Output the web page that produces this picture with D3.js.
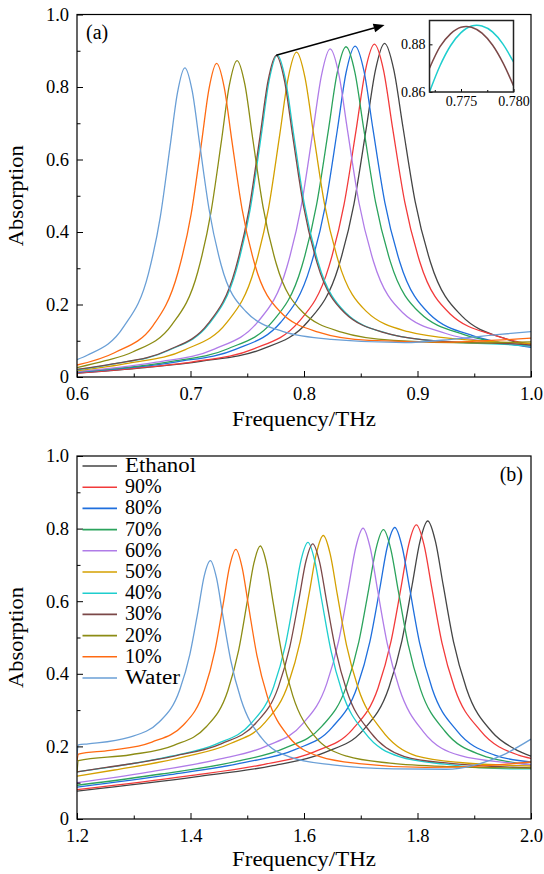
<!DOCTYPE html>
<html><head><meta charset="utf-8">
<script src="https://cdn.jsdelivr.net/npm/d3@7/dist/d3.min.js"></script>
<style>
html,body{margin:0;padding:0;background:#fff;}
svg{display:block;}
text{font-family:"Liberation Serif","DejaVu Serif",serif;fill:#000;}
</style></head>
<body>
<svg id="chart" width="544" height="874"></svg>
<script>
// ---------- Series names and colours ----------
const seriesNames = ["Ethanol","90%","80%","70%","60%","50%","40%","30%","20%","10%","Water"];
const seriesColors = ["#454545","#f23a3a","#1f6fdd","#2ba35c","#b07ce8","#d4a000","#1ecece","#7b4848","#8c8c14","#ff6a12","#6a9fd6"];

// ---------- Panel (a): [frequency THz, absorption] ----------
const aEthanol = [[0.6,0.011],[0.66,0.026],[0.709,0.043],[0.763,0.077],[0.8035,0.153],[0.8305,0.305],[0.844,0.477],[0.8548,0.685],[0.8629,0.846],[0.871,0.9205],[0.8791,0.848],[0.8872,0.689],[0.898,0.483],[0.9115,0.316],[0.9385,0.170],[0.979,0.104],[1.0,0.086]];
const a90 = [[0.6,0.011],[0.65,0.024],[0.7018,0.042],[0.7552,0.077],[0.7953,0.152],[0.822,0.305],[0.8353,0.476],[0.846,0.683],[0.854,0.844],[0.862,0.918],[0.870,0.847],[0.878,0.688],[0.8887,0.484],[0.902,0.318],[0.9288,0.174],[0.9688,0.114],[1.0,0.090]];
const a80 = [[0.6,0.013],[0.645,0.025],[0.6878,0.042],[0.7402,0.077],[0.7795,0.151],[0.8057,0.305],[0.8188,0.473],[0.8293,0.680],[0.8371,0.840],[0.845,0.913],[0.8529,0.843],[0.8607,0.685],[0.8712,0.482],[0.8843,0.318],[0.9105,0.174],[0.9498,0.113],[0.975,0.094],[1.0,0.082]];
const a70 = [[0.6,0.014],[0.64,0.025],[0.681,0.042],[0.733,0.078],[0.772,0.152],[0.798,0.304],[0.811,0.474],[0.8214,0.679],[0.8292,0.838],[0.837,0.911],[0.8448,0.841],[0.8526,0.685],[0.863,0.483],[0.876,0.319],[0.902,0.177],[0.941,0.117],[0.97,0.096],[1.0,0.085]];
const a60 = [[0.6,0.015],[0.635,0.026],[0.67,0.041],[0.721,0.077],[0.7593,0.152],[0.7848,0.302],[0.7975,0.470],[0.8077,0.674],[0.8154,0.832],[0.823,0.905],[0.8307,0.835],[0.8383,0.681],[0.8485,0.480],[0.8613,0.318],[0.8868,0.178],[0.925,0.120],[0.976,0.093],[1.0,0.085]];
const a50 = [[0.6,0.017],[0.6458,0.038],[0.695,0.075],[0.7319,0.150],[0.7565,0.300],[0.7688,0.466],[0.7786,0.668],[0.786,0.824],[0.7934,0.896],[0.8008,0.827],[0.8082,0.675],[0.818,0.478],[0.8303,0.319],[0.8549,0.181],[0.8918,0.125],[0.941,0.103],[1.0,0.093]];
const a40 = [[0.6,0.020],[0.6325,0.036],[0.6805,0.073],[0.7165,0.147],[0.7405,0.297],[0.7525,0.461],[0.7621,0.661],[0.7693,0.818],[0.7765,0.888],[0.7837,0.820],[0.7909,0.669],[0.8005,0.474],[0.8125,0.316],[0.8365,0.178],[0.8725,0.121],[0.9205,0.098],[0.9925,0.087],[1.0,0.085]];
const a30 = [[0.6,0.021],[0.6315,0.036],[0.6795,0.073],[0.7155,0.147],[0.7395,0.297],[0.7515,0.461],[0.7611,0.661],[0.7683,0.817],[0.7755,0.8875],[0.7827,0.819],[0.7899,0.668],[0.7995,0.473],[0.8115,0.315],[0.8355,0.178],[0.8715,0.122],[0.9195,0.099],[0.9915,0.090],[1.0,0.088]];
const a20 = [[0.6,0.026],[0.625,0.045],[0.649,0.069],[0.6835,0.144],[0.7065,0.291],[0.718,0.454],[0.7272,0.650],[0.7341,0.803],[0.741,0.873],[0.7479,0.807],[0.7548,0.658],[0.764,0.468],[0.7755,0.313],[0.7985,0.180],[0.833,0.124],[0.879,0.101],[0.948,0.094],[1.0,0.097]];
const a10 = [[0.6,0.033],[0.633,0.067],[0.667,0.142],[0.689,0.289],[0.7006,0.450],[0.7096,0.644],[0.7163,0.795],[0.723,0.865],[0.7297,0.799],[0.7364,0.653],[0.7454,0.464],[0.7566,0.311],[0.779,0.180],[0.8126,0.124],[0.8574,0.101],[0.9246,0.096],[0.96,0.100],[1.0,0.107]];
const aWater = [[0.6,0.048],[0.609,0.060],[0.641,0.138],[0.663,0.286],[0.6735,0.444],[0.682,0.636],[0.6885,0.784],[0.695,0.853],[0.7015,0.789],[0.708,0.645],[0.7165,0.460],[0.727,0.309],[0.749,0.180],[0.781,0.126],[0.824,0.104],[0.8885,0.095],[0.93,0.104],[0.97,0.117],[1.0,0.125]];

// Inset of panel (a): 30% and 40% near their peaks
const insetBrown = [[0.772,0.870],[0.773,0.879],[0.774,0.8844],[0.775,0.8872],[0.7755,0.8875],[0.776,0.8872],[0.777,0.8847],[0.778,0.8797],[0.779,0.8722],[0.780,0.8626]];
const insetCyan  = [[0.772,0.860],[0.773,0.871],[0.774,0.8794],[0.775,0.8849],[0.776,0.8877],[0.7765,0.888],[0.777,0.8877],[0.778,0.8852],[0.779,0.8801],[0.780,0.8726]];
const insetXTicks = [0.775, 0.780];
const insetXMinor = [0.7725, 0.7775];
const insetYTicks = [0.86, 0.88];
const arrowFrom = [0.7755, 0.8875];
const arrowTo = [0.871, 0.971];

// ---------- Panel (b) ----------
const bEthanol = [[1.2,0.077],[1.4085,0.116],[1.545,0.147],[1.636,0.183],[1.7043,0.245],[1.7498,0.363],[1.7725,0.491],[1.7907,0.646],[1.8044,0.765],[1.818,0.821],[1.8317,0.764],[1.8453,0.644],[1.8635,0.488],[1.8863,0.359],[1.9318,0.239],[1.97,0.194],[2.0,0.173]];
const b90 = [[1.2,0.081],[1.393,0.118],[1.528,0.150],[1.618,0.185],[1.6855,0.247],[1.7305,0.361],[1.753,0.487],[1.771,0.638],[1.7845,0.756],[1.798,0.810],[1.8115,0.755],[1.825,0.638],[1.843,0.486],[1.8655,0.360],[1.9105,0.244],[1.978,0.176],[2.0,0.167]];
const b80 = [[1.2,0.088],[1.364,0.122],[1.496,0.156],[1.584,0.191],[1.65,0.253],[1.694,0.365],[1.716,0.488],[1.7336,0.635],[1.7468,0.750],[1.76,0.803],[1.7732,0.748],[1.7864,0.633],[1.804,0.483],[1.826,0.358],[1.87,0.242],[1.936,0.176],[2.0,0.157]];
const b70 = [[1.2,0.093],[1.3485,0.124],[1.479,0.158],[1.566,0.195],[1.6313,0.255],[1.6748,0.366],[1.6965,0.487],[1.7139,0.632],[1.727,0.745],[1.74,0.797],[1.753,0.743],[1.7661,0.629],[1.7835,0.481],[1.8053,0.357],[1.8488,0.241],[1.914,0.175],[1.96,0.158],[2.0,0.150]];
const b60 = [[1.2,0.100],[1.3206,0.128],[1.4484,0.164],[1.5336,0.201],[1.5975,0.262],[1.6401,0.373],[1.6614,0.493],[1.6784,0.637],[1.6912,0.748],[1.704,0.801],[1.7168,0.746],[1.7296,0.631],[1.7466,0.484],[1.7679,0.360],[1.8105,0.240],[1.8744,0.175],[1.9596,0.155],[2.0,0.150]];
const b50 = [[1.2,0.118],[1.2659,0.135],[1.3886,0.171],[1.4704,0.208],[1.5318,0.267],[1.5727,0.374],[1.5931,0.488],[1.6095,0.625],[1.6217,0.731],[1.634,0.781],[1.6463,0.729],[1.6585,0.620],[1.6749,0.479],[1.6954,0.361],[1.7363,0.246],[1.7976,0.174],[1.8794,0.155],[2.0,0.146]];
const b40 = [[1.2,0.130],[1.2452,0.140],[1.3658,0.173],[1.4462,0.207],[1.5065,0.263],[1.5467,0.365],[1.5668,0.476],[1.5829,0.611],[1.5949,0.714],[1.607,0.762],[1.6191,0.710],[1.6311,0.604],[1.6472,0.466],[1.6673,0.349],[1.7075,0.237],[1.7678,0.172],[1.8482,0.151],[1.9688,0.138],[2.0,0.138]];
const b30 = [[1.2,0.130],[1.2519,0.142],[1.3731,0.174],[1.4539,0.207],[1.5145,0.263],[1.5549,0.364],[1.5751,0.475],[1.5913,0.607],[1.6034,0.710],[1.6155,0.758],[1.6276,0.707],[1.6397,0.601],[1.6559,0.465],[1.6761,0.350],[1.7165,0.240],[1.7771,0.172],[1.8579,0.153],[1.9791,0.142],[2.0,0.141]];
const b20 = [[1.2,0.128],[1.2025,0.161],[1.2944,0.177],[1.3706,0.203],[1.4278,0.254],[1.4659,0.354],[1.4849,0.465],[1.5001,0.600],[1.5116,0.704],[1.523,0.752],[1.5344,0.701],[1.5459,0.594],[1.5611,0.455],[1.5802,0.340],[1.6183,0.229],[1.6754,0.173],[1.7516,0.154],[1.8659,0.144],[2.0,0.140]];
const b10 = [[1.2,0.160],[1.2025,0.179],[1.258,0.189],[1.332,0.212],[1.3875,0.259],[1.4245,0.356],[1.443,0.464],[1.4578,0.594],[1.4689,0.696],[1.48,0.743],[1.4911,0.692],[1.5022,0.587],[1.517,0.451],[1.5355,0.337],[1.5725,0.228],[1.628,0.172],[1.702,0.152],[1.813,0.142],[1.9,0.145],[2.0,0.157]];
const bWater = [[1.2,0.177],[1.2025,0.204],[1.2196,0.207],[1.2914,0.225],[1.3453,0.268],[1.3811,0.356],[1.3991,0.455],[1.4135,0.575],[1.4242,0.670],[1.435,0.712],[1.4458,0.664],[1.4565,0.565],[1.4709,0.437],[1.4889,0.330],[1.5248,0.224],[1.5786,0.169],[1.6504,0.149],[1.7581,0.138],[1.85,0.137],[1.9,0.148],[1.95,0.176],[2.0,0.220]];

const panelAData = [aEthanol,a90,a80,a70,a60,a50,a40,a30,a20,a10,aWater];
const panelBData = [bEthanol,b90,b80,b70,b60,b50,b40,b30,b20,b10,bWater];

// Axis ticks
const aXTicks = [0.6,0.7,0.8,0.9,1.0];
const aXMinor = [0.65,0.75,0.85,0.95];
const bXTicks = [1.2,1.4,1.6,1.8,2.0];
const bXMinor = [1.3,1.5,1.7,1.9];
const yTicks = [0,0.2,0.4,0.6,0.8,1.0];
const yMinor = [0.1,0.3,0.5,0.7,0.9];

// ---------- Drawing ----------
const svg = d3.select("#chart");
const L = 77, R = 531;
const FONT = "Liberation Serif";
const fmt = d => d === 0 ? "0" : d3.format(".1f")(d);

function panel(opts){
  const x = d3.scaleLinear().domain(opts.xDomain).range([L, R]);
  const y = d3.scaleLinear().domain([0,1]).range([opts.bottom, opts.top]);
  const g = svg.append("g");
  const clipId = "clip" + opts.id;
  svg.append("clipPath").attr("id", clipId).append("rect")
    .attr("x", L).attr("y", opts.top).attr("width", R-L).attr("height", opts.bottom-opts.top);

  const line = d3.line().x(d => x(d[0])).y(d => y(d[1])).curve(d3.curveMonotoneX);
  const lines = g.append("g").attr("clip-path", `url(#${clipId})`);
  opts.data.forEach((s,i) => {
    lines.append("path").attr("d", line(s)).attr("fill","none")
      .attr("stroke", seriesColors[i]).attr("stroke-width", 1.3);
  });

  g.append("g").attr("transform", `translate(0,${opts.bottom})`)
    .call(d3.axisBottom(x).tickValues(opts.xTicks).tickSize(-6).tickPadding(10).tickFormat(fmt));
  g.append("g").attr("transform", `translate(0,${opts.bottom})`)
    .call(d3.axisBottom(x).tickValues(opts.xMinor).tickSize(-3.5).tickFormat(""));
  g.append("g").attr("transform", `translate(${L},0)`)
    .call(d3.axisLeft(y).tickValues(yTicks).tickSize(-6).tickPadding(8).tickFormat(fmt));
  g.append("g").attr("transform", `translate(${L},0)`)
    .call(d3.axisLeft(y).tickValues(yMinor).tickSize(-3.5).tickFormat(""));
  g.selectAll(".domain").remove();
  g.selectAll(".tick line").attr("stroke","#000").attr("stroke-width",1);
  g.selectAll(".tick text").attr("font-size","18.5px").attr("font-family",FONT).attr("fill","#222");

  g.append("rect").attr("x", L).attr("y", opts.top).attr("width", R-L).attr("height", opts.bottom-opts.top)
    .attr("fill","none").attr("stroke","#000").attr("stroke-width",1.2);

  g.append("text").attr("x", (L+R)/2).attr("y", opts.bottom + opts.titleGap).attr("text-anchor","middle")
    .attr("font-size","21px").attr("fill","#222")
    .attr("textLength",144).attr("lengthAdjust","spacingAndGlyphs").text("Frequency/THz");
  g.append("text").attr("transform", `translate(23,${(opts.top+opts.bottom)/2}) rotate(-90)`)
    .attr("text-anchor","middle").attr("font-size","21px").attr("fill","#222")
    .attr("textLength",101).attr("lengthAdjust","spacingAndGlyphs").text("Absorption");
  return {x, y, g};
}

// Panel (a)
const pa = panel({id:"a", xDomain:[0.6,1.0], top:14.5, bottom:377, titleGap:49, data:panelAData, xTicks:aXTicks, xMinor:aXMinor});
pa.g.append("text").attr("x", 86).attr("y", 39).attr("font-size","20px").attr("fill","#222").text("(a)");

// arrow
{
  const x1 = pa.x(arrowFrom[0]), y1 = pa.y(arrowFrom[1]);
  const x2 = pa.x(arrowTo[0]), y2 = pa.y(arrowTo[1]);
  const ang = Math.atan2(y2-y1, x2-x1);
  const hl = 11, hw = 4.5;
  const bx = x2 - hl*Math.cos(ang), by = y2 - hl*Math.sin(ang);
  pa.g.append("line").attr("x1",x1).attr("y1",y1).attr("x2",bx).attr("y2",by)
    .attr("stroke","#000").attr("stroke-width",1.5);
  const p1 = [bx + hw*Math.sin(ang), by - hw*Math.cos(ang)];
  const p2 = [bx - hw*Math.sin(ang), by + hw*Math.cos(ang)];
  pa.g.append("path").attr("d", `M${x2},${y2}L${p1[0]},${p1[1]}L${p2[0]},${p2[1]}Z`).attr("fill","#000");
}

// inset
{
  const ix = d3.scaleLinear().domain([0.772,0.780]).range([429.5,513.5]);
  const iy = d3.scaleLinear().domain([0.86,0.89]).range([92,20.5]);
  const ig = svg.append("g");
  ig.append("rect").attr("x",429.5).attr("y",20.5).attr("width",84).attr("height",71.5).attr("fill","#fff");
  svg.append("clipPath").attr("id","clipInset").append("rect").attr("x",429.5).attr("y",20.5).attr("width",84).attr("height",71.5);
  const il = d3.line().x(d=>ix(d[0])).y(d=>iy(d[1])).curve(d3.curveMonotoneX);
  const cl = ig.append("g").attr("clip-path","url(#clipInset)");
  cl.append("path").attr("d", il(insetCyan)).attr("fill","none").attr("stroke", seriesColors[6]).attr("stroke-width",1.5);
  cl.append("path").attr("d", il(insetBrown)).attr("fill","none").attr("stroke", seriesColors[7]).attr("stroke-width",1.5);
  ig.append("g").attr("transform","translate(0,92)")
    .call(d3.axisBottom(ix).tickValues(insetXTicks).tickSize(-3).tickPadding(4).tickFormat(d3.format(".3f")));
  ig.append("g").attr("transform","translate(0,92)")
    .call(d3.axisBottom(ix).tickValues(insetXMinor).tickSize(-2).tickFormat(""));
  ig.append("g").attr("transform","translate(429.5,0)")
    .call(d3.axisLeft(iy).tickValues(insetYTicks).tickSize(-3).tickPadding(4).tickFormat(d3.format(".2f")));
  ig.selectAll(".domain").remove();
  ig.selectAll(".tick line").attr("stroke","#000");
  ig.selectAll(".tick text").attr("font-size","14px").attr("font-family",FONT).attr("fill","#222");
  ig.append("rect").attr("x",429.5).attr("y",20.5).attr("width",84).attr("height",71.5)
    .attr("fill","none").attr("stroke","#222").attr("stroke-width",1.5);
}

// Panel (b)
const pb = panel({id:"b", xDomain:[1.2,2.0], top:456, bottom:819, titleGap:47, data:panelBData, xTicks:bXTicks, xMinor:bXMinor});
pb.g.append("text").attr("x", 523).attr("y", 481).attr("text-anchor","end").attr("font-size","20px").attr("fill","#222").text("(b)");

// legend
{
  const lg = svg.append("g");
  const stretch = {"Ethanol": 71, "Water": 55};
  seriesNames.forEach((n,i) => {
    const cy = 466 + i*21.2;
    lg.append("line").attr("x1",82.5).attr("x2",117).attr("y1",cy).attr("y2",cy)
      .attr("stroke", seriesColors[i]).attr("stroke-width",1.6);
    const t = lg.append("text").attr("x",125).attr("y",cy+6).attr("font-size","20px").attr("fill","#222").text(n);
    if (stretch[n]) t.attr("textLength", stretch[n]).attr("lengthAdjust","spacingAndGlyphs");
  });
}
</script>
</body></html>
